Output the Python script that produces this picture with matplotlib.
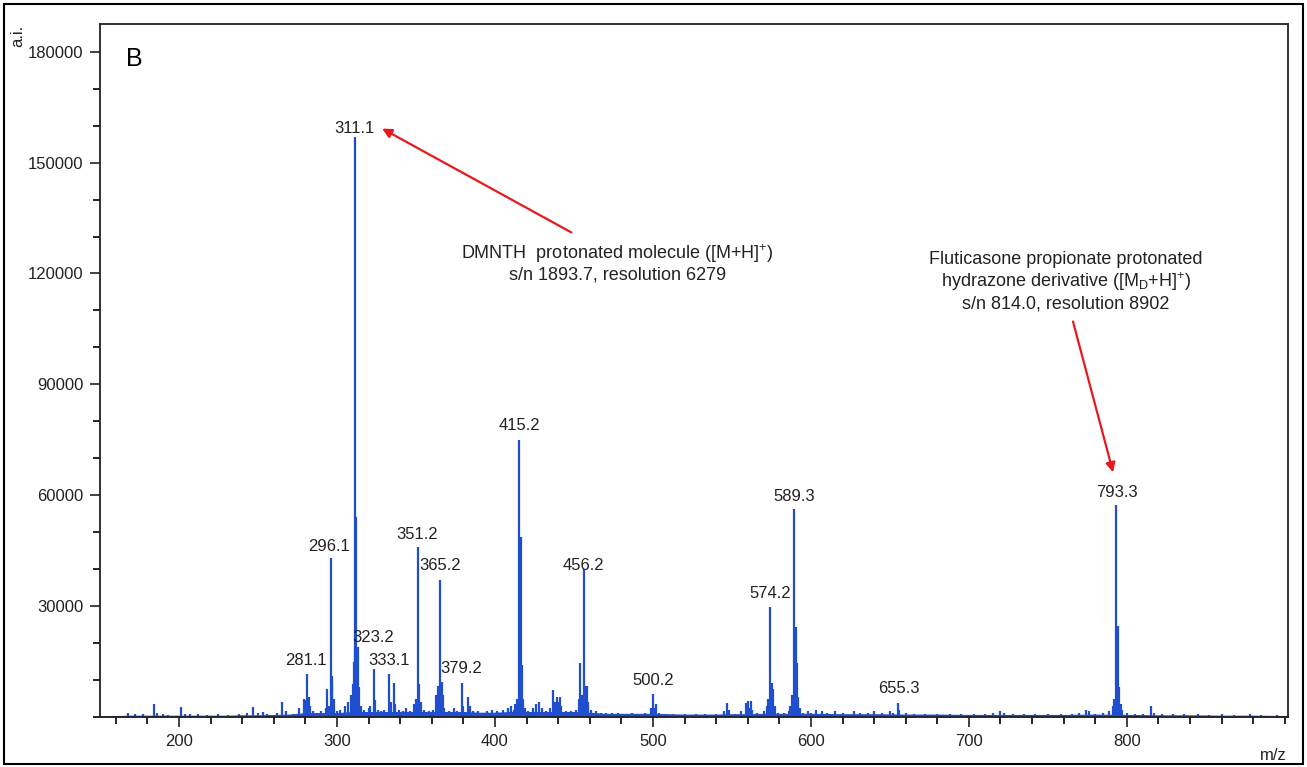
import matplotlib
matplotlib.use("Agg")
import matplotlib.pyplot as plt
from matplotlib.ticker import MultipleLocator
from matplotlib.patches import Rectangle

plt.rcParams['font.family'] = ['Liberation Sans', 'DejaVu Sans']
plt.rcParams['mathtext.default'] = 'regular'

# ---- data: peak lists (m/z, intensity) ----
peaks_150_300 = [(168, 1200), (172, 800), (177, 900), (184, 3500), (186, 1200), (190, 900), (193, 600),
                 (201, 2800), (204, 800), (207, 700), (212, 900), (218, 600), (225, 700), (231, 600),
                 (238, 800), (243, 1000), (247, 2600), (250, 1200), (253, 1300), (256, 900), (262, 1000),
                 (265, 4000), (268, 1500), (272, 800), (276, 2500), (279, 5000), (280, 4500), (281.1, 11600),
                 (281.6, 5000), (282.1, 5500), (283, 3000), (285, 1500), (288, 1200), (290, 1500), (293, 2500),
                 (294, 7600), (295, 3000), (296.1, 43000), (296.6, 9000), (297.1, 11000), (298, 5000)]
peaks_300_400 = [(300, 1500), (302, 2000), (305, 3000), (307, 4000), (309, 6000), (310, 9000),
                 (310.6, 15000), (311.1, 157000), (311.6, 19000), (312.1, 54000), (312.6, 18000),
                 (313.1, 19000), (314, 8000), (315, 3000), (317, 2000),
                 (320, 2500), (321, 3000), (323.2, 13000), (324, 4500), (326, 2000), (328, 1500), (330, 2000),
                 (333.1, 11600), (334, 4000), (336, 9200), (337, 3500), (339, 2000), (342, 1500), (344, 2500),
                 (346, 1500), (349, 3500), (350, 5000), (351.2, 46000), (352.2, 9000), (353, 4000), (355, 2000),
                 (358, 1500), (361, 2000), (363, 6000), (364, 8500), (365.2, 37000), (365.7, 9000), (366.2, 9500),
                 (367, 6000), (368, 2500), (371, 1500), (374, 2500), (376, 1500), (379.2, 9200), (380, 3000),
                 (383, 5400), (384, 3000), (386, 1500), (389, 1500), (392, 1200), (395, 1500), (398, 2000)]
peaks_400_500 = [(401, 1500), (405, 2000), (408, 2500), (410, 3000), (412, 2000), (413, 3500), (414, 5000),
                 (415.2, 75000), (415.7, 14000), (416.2, 48600), (417.2, 14000), (418, 5000), (419, 2500),
                 (421, 1500), (424, 2500), (426, 3500), (428, 4000), (430, 2500), (432, 1500), (435, 2500),
                 (437, 7300), (438, 4000), (439, 5500), (440, 4000), (441, 5500), (442, 3000), (445, 1500),
                 (448, 1500), (451, 2000), (453, 5000), (454, 14500), (455, 6000), (456.2, 40000), (457.2, 8500),
                 (458, 8500), (459, 4000), (461, 2000), (464, 1500), (467, 1200), (470, 1000), (474, 1000),
                 (478, 1100), (483, 900), (487, 1000), (491, 900), (495, 1000), (499, 2500)]
peaks_500_700 = [(500.2, 6200), (501, 2500), (502, 3500), (504, 1200), (508, 800), (513, 900), (520, 700),
                 (527, 700), (533, 800), (540, 900), (545, 1500), (547, 3800), (548, 2000), (552, 800),
                 (556, 1500), (559, 3800), (560, 4300), (561, 2500), (562, 4300), (563, 2000), (566, 1000),
                 (570, 1500), (572, 3000), (573, 5000), (574.2, 29700), (575.2, 9200), (576, 7500), (577, 3000),
                 (579, 1200), (583, 1200), (586, 1500), (587, 3000), (588, 6000), (589.3, 56200), (589.8, 12000),
                 (590.3, 24300), (591.3, 14600), (592, 5500), (593, 2500), (595, 1200), (598, 1500), (600, 1200),
                 (603, 2000), (607, 1500), (610, 1200), (615, 1500), (620, 1000), (627, 1500), (631, 1200),
                 (636, 1000), (640, 1500), (645, 1200), (650, 1500), (652, 1200), (655.3, 3800), (656, 1800),
                 (660, 1000), (665, 900), (672, 800), (680, 700), (688, 800), (695, 700)]
peaks_700_900 = [(703, 800), (710, 900), (715, 1000), (720, 1500), (722, 1200), (728, 900), (735, 800),
                 (742, 700), (750, 800), (758, 700), (765, 800), (770, 1000), (774, 2000), (776, 1500),
                 (780, 900), (785, 1000), (789, 1500), (791, 3000), (792, 5000), (793.3, 57300), (793.8, 12000),
                 (794.3, 24500), (795.3, 8000), (796, 3500), (797, 2000), (800, 1000), (805, 800), (810, 900),
                 (815, 3000), (817, 1200), (822, 800), (829, 900), (836, 700), (845, 800), (852, 600), (860, 700),
                 (868, 600), (878, 700), (885, 600), (895, 600)]

# noise floor level along the m/z axis
baseline_mz = [150, 160, 170, 180, 190, 200, 210, 220, 230, 240, 250, 260, 270, 280, 290, 300, 310, 320,
               330, 340, 350, 360, 370, 380, 390, 400, 410, 420, 430, 440, 450, 460, 470, 480, 490, 500,
               510, 520, 530, 540, 550, 560, 570, 580, 590, 600, 620, 640, 660, 680, 700, 720, 740, 760,
               780, 800, 820, 840, 860, 880, 902]
baseline_int = [300, 400, 500, 500, 500, 500, 500, 500, 500, 600, 600, 700, 800, 1200, 1200, 1200, 1500, 1500,
                1500, 1500, 1500, 1500, 1500, 1500, 1300, 1300, 1500, 1500, 1500, 1500, 1500, 1300, 1000, 1000,
                1000, 1000, 900, 800, 800, 800, 900, 900, 1000, 1000, 1000, 1000, 900, 900, 800, 800, 700, 700,
                700, 700, 800, 700, 600, 600, 500, 500, 400]

labels = ["311.1", "296.1", "281.1", "323.2", "333.1", "351.2", "365.2", "379.2",
          "415.2", "456.2", "500.2", "574.2", "589.3", "655.3", "793.3"]
label_x = [311.1, 295.1, 280.5, 322.9, 333.1, 350.8, 365.4, 378.7,
           415.5, 456.2, 499.9, 574.4, 589.2, 655.5, 793.6]
label_y = [159200, 46200, 15400, 21400, 15400, 49500, 41100, 13200,
           78900, 41100, 10000, 33500, 59700, 7600, 60800]

xlim = (150, 902)
ylim = (0, 187500)
yticks = [30000, 60000, 90000, 120000, 150000, 180000]
xticks = [200, 300, 400, 500, 600, 700, 800]

blue = "#1f4fcf"

all_peaks = peaks_150_300 + peaks_300_400 + peaks_400_500 + peaks_500_700 + peaks_700_900
mz = [p[0] for p in all_peaks]
intensity = [p[1] for p in all_peaks]

fig = plt.figure(figsize=(13.07, 7.67), dpi=100)
ax = fig.add_axes([100 / 1307, 1 - 717 / 767, 1188 / 1307, 693 / 767])

ax.fill_between(baseline_mz, 0, baseline_int, color=blue, lw=0)
ax.vlines(mz, 0, intensity, color=blue, lw=1.6)

for t, x, y in zip(labels, label_x, label_y):
    ax.text(x, y, t, ha='center', va='center', fontsize=12, color='#222222')

# annotations
ax.annotate("", xy=(328.6, 159200), xytext=(448.4, 131100),
            arrowprops=dict(arrowstyle='-|>', color='#e8191e', lw=1.6, mutation_scale=14, shrinkA=0, shrinkB=0))
ax.text(477.6, 122800, "DMNTH  protonated molecule ([M+H]$^{+}$)\ns/n 1893.7, resolution 6279",
        ha='center', va='center', fontsize=13, color='#222222', linespacing=1.15)

ax.annotate("", xy=(791.3, 66200), xytext=(765.9, 107000),
            arrowprops=dict(arrowstyle='-|>', color='#e8191e', lw=1.6, mutation_scale=14, shrinkA=0, shrinkB=0))
ax.text(761.5, 117800, "Fluticasone propionate protonated\nhydrazone derivative ([M$_{D}$+H]$^{+}$)\ns/n 814.0, resolution 8902",
        ha='center', va='center', fontsize=13, color='#222222', linespacing=1.15)

ax.text(0.029, 0.9495, "B", transform=ax.transAxes, fontsize=18, ha='center', va='center')

ax.set_xlim(*xlim)
ax.set_ylim(*ylim)
ax.set_xticks(xticks)
ax.set_yticks(yticks)
ax.xaxis.set_minor_locator(MultipleLocator(20))
ax.yaxis.set_minor_locator(MultipleLocator(10000))
ax.tick_params(axis='both', which='major', direction='out', length=7, width=1.2, labelsize=12, colors='#222222', pad=5)
ax.tick_params(axis='both', which='minor', direction='out', length=5, width=1.2)
for s in ax.spines.values():
    s.set_linewidth(1.3)
    s.set_color('#222222')

fig.text(18 / 1307, 1 - 36 / 767, "a.i.", rotation=90, ha='center', va='center', fontsize=12, color='#222222')
fig.text(1273 / 1307, 1 - 756 / 767, "m/z", ha='center', va='center', fontsize=12, color='#222222')

fig.patches.append(Rectangle((4 / 1307, 3 / 767), 1299 / 1307, 760 / 767, transform=fig.transFigure,
                             fill=False, edgecolor='black', lw=1.5))

fig.savefig("out.png", dpi=100)
